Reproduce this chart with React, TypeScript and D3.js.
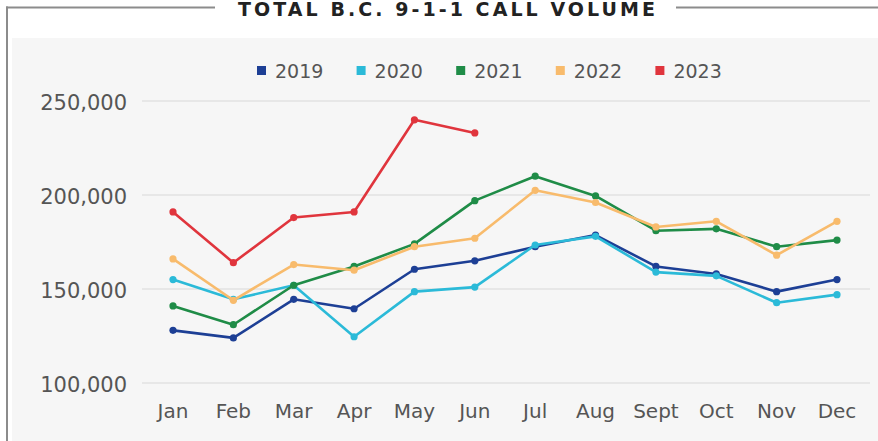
import React from "react";
import * as d3 from "d3";

const months = ["Jan", "Feb", "Mar", "Apr", "May", "Jun", "Jul", "Aug", "Sept", "Oct", "Nov", "Dec"];
const years = ["2019", "2020", "2021", "2022", "2023"];
const colors = ["#1d3f95", "#2bbad8", "#1f8c47", "#f8bb6c", "#e0353d"];
const v2019 = [128000, 124000, 144500, 139500, 160500, 165000, 172500, 178700, 162000, 158000, 148600, 155000];
const v2020 = [155000, 144500, 152000, 124600, 148600, 151000, 173400, 178000, 159000, 157000, 142700, 147000];
const v2021 = [141000, 131000, 152000, 162000, 174000, 197000, 210000, 199500, 181000, 182000, 172500, 176000];
const v2022 = [166000, 144000, 163000, 160000, 172500, 177000, 202500, 196000, 183000, 186000, 168000, 186000];
const v2023 = [191000, 164000, 188000, 191000, 240000, 233000];
const yTicks = [100000, 150000, 200000, 250000];
const title = "TOTAL B.C. 9-1-1 CALL VOLUME";

const W = 878;
const H = 441;

export default function App() {
  const series = [v2019, v2020, v2021, v2022, v2023];
  const x = d3.scalePoint<string>().domain(months).range([173, 837]);
  const y = d3.scaleLinear().domain([100000, 250000]).range([383, 101]);
  const line = d3
    .line<number>()
    .x((_, i) => x(months[i]) as number)
    .y((d) => y(d));
  const fmt = d3.format(",");
  const font = "'DejaVu Sans', sans-serif";

  return (
    <svg width={W} height={H} style={{ position: "absolute", left: 0, top: 0, background: "#fff" }}>
      <rect x={0} y={0} width={W} height={H} fill="#ffffff" />
      <rect x={12} y={38} width={W - 12} height={H - 38} fill="#f6f6f6" />
      {/* frame */}
      <line x1={6} y1={7.5} x2={215} y2={7.5} stroke="#8c8c8c" strokeWidth={2} />
      <line x1={676} y1={7.5} x2={W} y2={7.5} stroke="#8c8c8c" strokeWidth={2} />
      <line x1={7} y1={6.5} x2={7} y2={H} stroke="#8c8c8c" strokeWidth={2} />
      <text
        x={238}
        y={16}
        textLength={417}
        lengthAdjust="spacing"
        fontFamily={font}
        fontWeight="bold"
        fontSize={19}
        fill="#222"
      >
        {title}
      </text>
      {/* legend */}
      {years.map((yr, i) => (
        <g key={yr} transform={`translate(${257 + i * 99.6},0)`}>
          <rect x={0} y={66} width={9} height={9} fill={colors[i]} />
          <text x={18} y={71} dominantBaseline="central" fontFamily={font} fontSize={19} fill="#555">
            {yr}
          </text>
        </g>
      ))}
      {/* grid */}
      {yTicks.map((t) => (
        <g key={t}>
          <line x1={142} x2={870} y1={y(t)} y2={y(t)} stroke="#e2e2e2" strokeWidth={1.5} />
          <text
            x={127}
            y={y(t) + 1.5}
            textAnchor="end"
            dominantBaseline="central"
            fontFamily={font}
            fontSize={21}
            fill="#555"
          >
            {fmt(t)}
          </text>
        </g>
      ))}
      {months.map((m) => (
        <text
          key={m}
          x={x(m) as number}
          y={411}
          textAnchor="middle"
          dominantBaseline="central"
          fontFamily={font}
          fontSize={20}
          fill="#555"
        >
          {m}
        </text>
      ))}
      {/* series */}
      {series.map((s, i) => (
        <g key={years[i]}>
          <path d={line(s) || ""} fill="none" stroke={colors[i]} strokeWidth={2.6} strokeLinejoin="round" />
          {s.map((v, j) => (
            <circle key={j} cx={x(months[j]) as number} cy={y(v)} r={3.6} fill={colors[i]} />
          ))}
        </g>
      ))}
    </svg>
  );
}
